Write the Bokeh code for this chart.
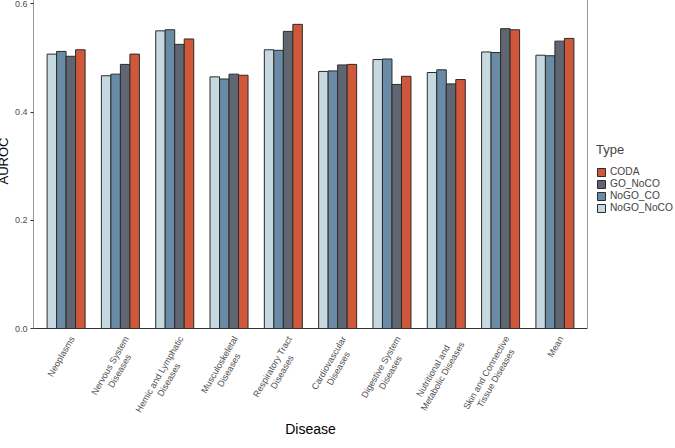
import math, glob
from bokeh.plotting import figure
from bokeh.models import (ColumnDataSource, FactorRange, FixedTicker, Legend, LegendItem,
                          NumeralTickFormatter, Range1d, Title, BoxAnnotation)
from bokeh.core.properties import value
from bokeh.transform import dodge
from bokeh.embed import file_html
from bokeh.resources import INLINE

diseases = ["Neoplasms", "Nervous System Diseases", "Hemic and Lymphatic Diseases",
            "Musculoskeletal Diseases", "Respiratory Tract Diseases", "Cardiovascular Diseases",
            "Digestive System Diseases", "Nutritional and Metabolic Diseases",
            "Skin and Connective Tissue Diseases", "Mean"]
tick_labels = ["Neoplasms", "Nervous System\nDiseases", "Hemic and Lymphatic\nDiseases",
               "Musculoskeletal\nDiseases", "Respiratory Tract\nDiseases", "Cardiovascular\nDiseases",
               "Digestive System\nDiseases", "Nutritional and\nMetabolic Diseases",
               "Skin and Connective\nTissue Diseases", "Mean"]

nogo_noco = [0.507, 0.467, 0.550, 0.465, 0.515, 0.475, 0.497, 0.473, 0.511, 0.505]
nogo_co   = [0.512, 0.470, 0.552, 0.461, 0.514, 0.476, 0.498, 0.478, 0.510, 0.504]
go_noco   = [0.503, 0.488, 0.525, 0.470, 0.549, 0.487, 0.451, 0.452, 0.554, 0.531]
coda      = [0.515, 0.507, 0.535, 0.468, 0.562, 0.488, 0.466, 0.460, 0.552, 0.536]

series_names = ["NoGO_NoCO", "NoGO_CO", "GO_NoCO", "CODA"]
series_colors = ["#C6D8E0", "#6A8BA6", "#5F6672", "#D0583A"]
y_ticks = [0.0, 0.2, 0.4, 0.6]
Y_MAX = 0.619

source = ColumnDataSource(dict(disease=diseases, NoGO_NoCO=nogo_noco, NoGO_CO=nogo_co,
                               GO_NoCO=go_noco, CODA=coda))

FONT = "Liberation Sans"
TICK_FS = 9.0
LEFT, FRAME_W, RIGHT = 38, 554, 83
PANEL_PX, STRIP_PX = 335, 88          # bar panel height and label strip height (px)
ppu = PANEL_PX / Y_MAX                # pixels per data unit on y

# ---- text width measurement (for centred multi-line rotated tick labels) ----
_font = None
try:
    from PIL import ImageFont
    paths = glob.glob("/usr/share/fonts/**/LiberationSans-Regular.ttf", recursive=True)
    if paths:
        _font = ImageFont.truetype(paths[0], 100)
except Exception:
    _font = None

def text_width(s, fs):
    if _font is not None:
        return _font.getlength(s) * fs / 100.0
    return len(s) * 0.52 * fs

p = figure(x_range=FactorRange(factors=diseases, range_padding=0.02),
           y_range=Range1d(-STRIP_PX / ppu, Y_MAX), x_axis_location=None,
           frame_width=FRAME_W, frame_height=PANEL_PX + STRIP_PX,
           output_backend="svg", toolbar_location=None,
           min_border_left=LEFT, min_border_top=1, min_border_right=RIGHT, min_border_bottom=22)
p.margin = (-8, 0, 0, -8)

bw = 0.175
offsets = [-1.5 * bw, -0.5 * bw, 0.5 * bw, 1.5 * bw]
renderers = {}
for name, col, off in zip(series_names, series_colors, offsets):
    r = p.vbar(x=dodge("disease", off, range=p.x_range), top=name, width=bw, bottom=0,
               source=source, fill_color=col, line_color="#2b2b2b", line_width=1)
    renderers[name] = r

p.xgrid.visible = False
p.ygrid.visible = False
p.outline_line_color = None
p.background_fill_color = "white"
p.border_fill_color = "white"

# panel border around the bar area only
p.add_layout(BoxAnnotation(bottom=0, top=Y_MAX, fill_color=None, fill_alpha=0,
                           line_color="#333333", line_width=1, line_alpha=1))

# y axis (line drawn by the panel border)
p.yaxis.ticker = FixedTicker(ticks=y_ticks)
p.yaxis.formatter = NumeralTickFormatter(format="0.0")
p.yaxis.major_label_text_font = FONT
p.yaxis.major_label_text_font_size = "9px"
p.yaxis.major_label_text_color = "#4D4D4D"
p.yaxis.major_tick_out = 3
p.yaxis.major_tick_in = 0
p.yaxis.minor_tick_line_color = None
p.yaxis.major_label_standoff = 3
p.yaxis.axis_line_color = None
p.yaxis.major_tick_line_color = "#333333"

# "AUROC" title, centred on the bar panel (not on the label strip)
auroc_w = text_width("AUROC", 13)
p.add_layout(Title(text="AUROC", align="left",
                   offset=STRIP_PX + PANEL_PX / 2 - auroc_w / 2,
                   text_font=FONT, text_font_size="13px", text_font_style="normal",
                   text_color="black", standoff=2), "left")

# rotated, centred two-line category labels in the strip under the panel
theta = math.pi / 3
ux, uy = math.cos(theta), -math.sin(theta)   # along text (screen, y down)
vx, vy = math.sin(theta), math.cos(theta)    # next line direction (screen, y down)
line_h = 11.0
ax0, ay0 = 2.0, 6.0                           # block top-right corner vs tick / panel bottom (px)

lx, ly, ltext, lxo = [], [], [], []
for d, lab in zip(diseases, tick_labels):
    lines = lab.split("\n")
    W = max(text_width(s, TICK_FS) for s in lines)
    for i, s in enumerate(lines):
        px = ax0 - ux * W / 2 + vx * i * line_h
        py = ay0 - uy * W / 2 + vy * i * line_h
        lx.append(d)
        ly.append(-py / ppu)
        ltext.append(s)
        lxo.append(px)

lab_src = ColumnDataSource(dict(x=lx, y=ly, text=ltext, xo=lxo))
p.text(x="x", y="y", text="text", x_offset="xo", source=lab_src, angle=theta,
       text_align="center", text_baseline="top", text_font=value(FONT),
       text_font_size=value(f"{TICK_FS}px"), text_color="#4D4D4D")

p.add_layout(Title(text="Disease", align="center", text_font=FONT, text_font_size="14px",
                   text_font_style="normal", text_color="black", standoff=4), "below")

items = [LegendItem(label=n, renderers=[renderers[n]]) for n in ["CODA", "GO_NoCO", "NoGO_CO", "NoGO_NoCO"]]
legend = Legend(items=items, title="Type", location=(9, STRIP_PX + 115),
                title_text_font=FONT, title_text_font_size="13px", title_text_font_style="normal",
                label_text_font=FONT, label_text_font_size="10.2px",
                glyph_width=10, glyph_height=10, label_height=10, spacing=1,
                padding=0, margin=0, border_line_color=None, background_fill_alpha=0,
                label_standoff=4, title_standoff=9)
p.add_layout(legend, "right")

open("out.html", "w").write(file_html(p, INLINE))
